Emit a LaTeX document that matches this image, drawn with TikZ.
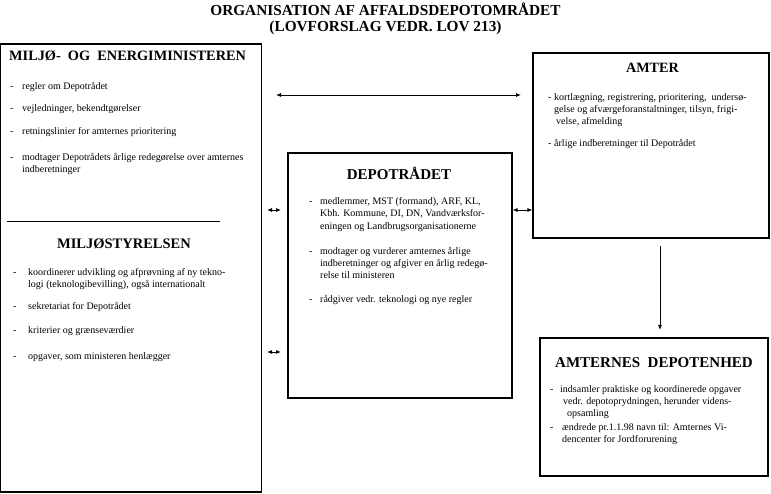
\documentclass[tikz,border=0pt]{standalone}
\usepackage{fontspec}
\setmainfont{Liberation Serif}
\usetikzlibrary{arrows.meta}
\tikzset{
  box/.style={draw=black, line width=1.2pt, fill=white, inner sep=0pt},
  ttl/.style={anchor=base, inner sep=0pt, font=\fontsize{15.3}{16}\selectfont\bfseries},
  head/.style={anchor=base, inner sep=0pt, font=\fontsize{14.5}{16}\selectfont\bfseries},
  txt/.style={anchor=base west, inner sep=0pt, font=\fontsize{10}{12}\selectfont},
  arr/.style={line width=0.8pt, {Latex[length=5pt,width=4pt]}-{Latex[length=5pt,width=4pt]}},
  arrone/.style={line width=0.8pt, -{Latex[length=5pt,width=4pt]}},
  sep/.style={line width=0.6pt}
}
\begin{document}
\begin{tikzpicture}[x=1pt,y=-1pt]
\useasboundingbox (0,0) rectangle (771,494);
% title
\node[ttl] (title1) at (385.5,16) {ORGANISATION AF AFFALDSDEPOTOMRÅDET};
\node[ttl] (title2) at (385.5,32) {(LOVFORSLAG VEDR. LOV 213)};
% boxes
\node[box, minimum width=261pt, minimum height=448pt] (minister) at (131.3,268) {};
\node[box, minimum width=224pt, minimum height=245pt] (depot) at (400,275.5) {};
\node[box, minimum width=236pt, minimum height=185pt] (amter) at (651,145.5) {};
\node[box, minimum width=228pt, minimum height=138pt] (enhed) at (654,407) {};
% left box: minister
\node[head, anchor=base west, font=\fontsize{14.3}{16}\selectfont\bfseries] (hmin) at (9,61) {MILJØ-\ \ OG\ \ ENERGIMINISTEREN};
\node[txt] (m1d) at (10,90) {-};
\node[txt] (m1) at (22,90) {regler om Depotrådet};
\node[txt] (m2d) at (10,112) {-};
\node[txt] (m2) at (22,112) {vejledninger, bekendtgørelser};
\node[txt] (m3d) at (10,135) {-};
\node[txt] (m3) at (22,135) {retningslinier for amternes prioritering};
\node[txt] (m4d) at (10,161) {-};
\node[txt] (m4) at (22,161) {modtager Depotrådets årlige redegørelse over amternes};
\node[txt] (m4b) at (22,173) {indberetninger};
\coordinate (sepA) at (7,221);
\coordinate (sepB) at (220,221);
\draw[sep] (sepA) -- (sepB);
% miljøstyrelsen
\node[head] (hmst) at (124,249) {MILJØSTYRELSEN};
\node[txt] (s1d) at (13,276) {-};
\node[txt] (s1) at (28,276) {koordinerer udvikling og afprøvning af ny tekno-};
\node[txt] (s1b) at (28,288) {logi (teknologibevilling), også internationalt};
\node[txt] (s2d) at (13,309) {-};
\node[txt] (s2) at (28,309) {sekretariat for Depotrådet};
\node[txt] (s3d) at (13,334) {-};
\node[txt] (s3) at (28,334) {kriterier og grænseværdier};
\node[txt] (s4d) at (13,359) {-};
\node[txt] (s4) at (28,359) {opgaver, som ministeren henlægger};
% depotrådet
\node[head, font=\fontsize{15}{16}\selectfont\bfseries] (hdep) at (399,180) {DEPOTRÅDET};
\node[txt] (d1d) at (309,205) {-};
\node[txt] (d1) at (320,205) {medlemmer, MST (formand), ARF, KL,};
\node[txt] (d1b) at (320,217) {Kbh. Kommune, DI, DN, Vandværksfor-};
\node[txt] (d1c) at (320,230) {eningen og Landbrugsorganisationerne};
\node[txt] (d2d) at (309,255) {-};
\node[txt] (d2) at (320,255) {modtager og vurderer amternes årlige};
\node[txt] (d2b) at (320,267) {indberetninger og afgiver en årlig redegø-};
\node[txt] (d2c) at (320,279) {relse til ministeren};
\node[txt] (d3d) at (309,302) {-};
\node[txt] (d3) at (320,302) {rådgiver vedr. teknologi og nye regler};
% amter
\node[head, font=\fontsize{14.2}{16}\selectfont\bfseries] (hamt) at (652.5,73) {AMTER};
\node[txt] (a1d) at (548,101) {-};
\node[txt] (a1) at (554,101) {kortlægning, registrering, prioritering,\ \ undersø-};
\node[txt] (a1b) at (554,113) {gelse og afværgeforanstaltninger, tilsyn, frigi-};
\node[txt] (a1c) at (556,125) {velse, afmelding};
\node[txt] (a2d) at (548,147) {-};
\node[txt] (a2) at (554,147) {årlige indberetninger til Depotrådet};
% amternes depotenhed
\node[head, font=\fontsize{15}{16}\selectfont\bfseries] (henh) at (654,367) {AMTERNES\ \ DEPOTENHED};
\node[txt] (e1d) at (550,392) {-};
\node[txt] (e1) at (560,392) {indsamler praktiske og koordinerede opgaver};
\node[txt] (e1b) at (563,404) {vedr. depotoprydningen, herunder videns-};
\node[txt] (e1c) at (567,416) {opsamling};
\node[txt] (e2d) at (550,430) {-};
\node[txt] (e2) at (562,430) {ændrede pr.1.1.98 navn til: Amternes Vi-};
\node[txt] (e2b) at (562,442) {dencenter for Jordforurening};
% connectors
\coordinate (topL) at (276,95);
\coordinate (topR) at (521,95);
\draw[arr] (topL) -- (topR);
\coordinate (s1L) at (267,210);
\coordinate (s1R) at (281,210);
\draw[arr] (s1L) -- (s1R);
\coordinate (s2L) at (267,352);
\coordinate (s2R) at (281,352);
\draw[arr] (s2L) -- (s2R);
\coordinate (mL) at (512.6,210);
\coordinate (mR) at (532.4,210);
\draw[arr] (mL) -- (mR);
\coordinate (vT) at (660,246);
\coordinate (vB) at (660,330);
\draw[arrone] (vT) -- (vB);
\end{tikzpicture}
\end{document}
